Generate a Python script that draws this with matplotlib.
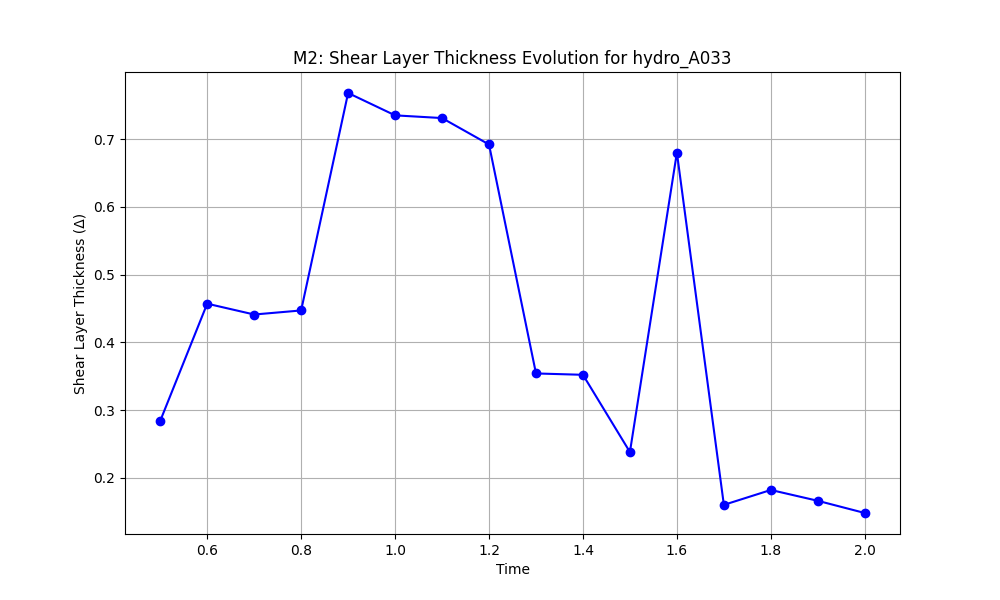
import matplotlib
matplotlib.use('Agg')
import matplotlib.pyplot as plt

# time steps and measured thickness
times = [0.5, 0.6, 0.7, 0.8, 0.9, 1.0, 1.1, 1.2, 1.3, 1.4, 1.5, 1.6, 1.7, 1.8, 1.9, 2.0]
thickness = [0.284, 0.457, 0.441, 0.447, 0.768, 0.735, 0.731, 0.692,
             0.354, 0.352, 0.238, 0.680, 0.160, 0.182, 0.166, 0.148]

fig, ax = plt.subplots(figsize=(10, 6))
ax.plot(times, thickness, 'o-', color='blue')
ax.set_title('M2: Shear Layer Thickness Evolution for hydro_A033')
ax.set_xlabel('Time')
ax.set_ylabel('Shear Layer Thickness (Δ)')
ax.grid(True)

fig.savefig('out.png', dpi=100)
